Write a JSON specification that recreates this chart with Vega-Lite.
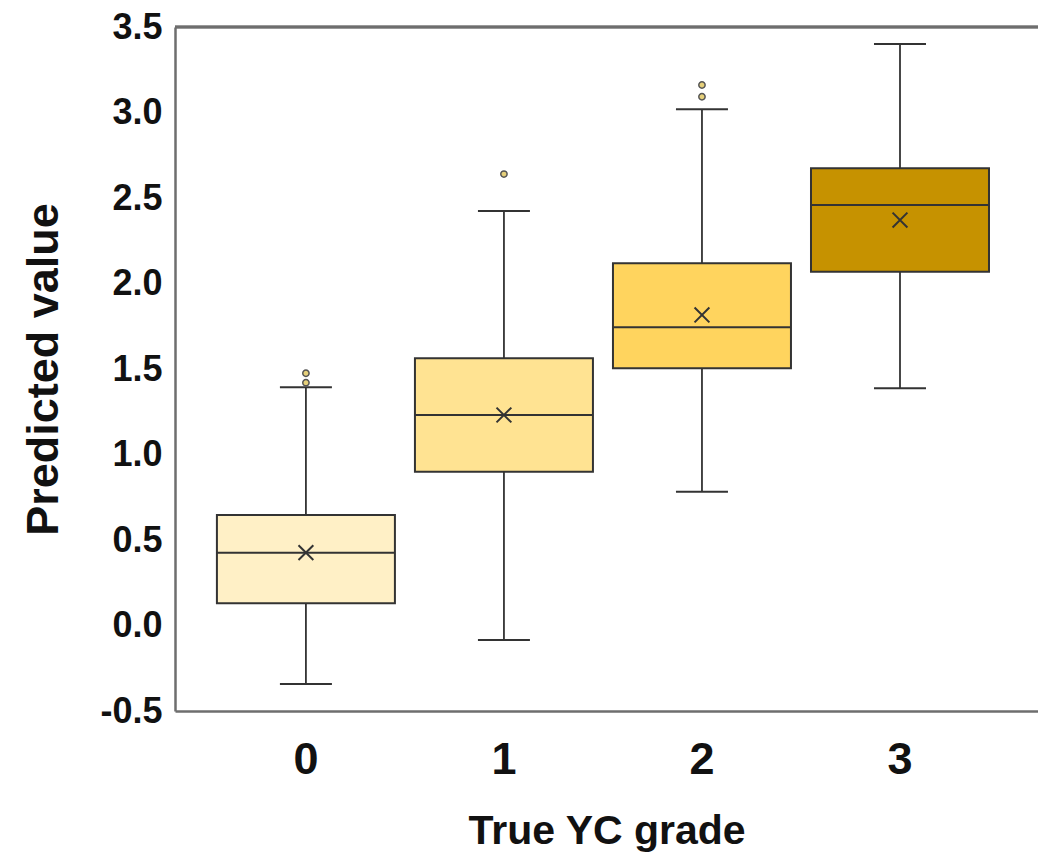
{
  "$schema": "https://vega.github.io/schema/vega-lite/v6.json",
  "width": 863,
  "height": 684,
  "autosize": {"type": "none"},
  "padding": {"left": 175, "top": 27, "right": 0, "bottom": 149},
  "background": "white",
  "config": {
    "view": {"stroke": null},
    "font": "Liberation Sans",
    "axis": {"grid": false, "ticks": false, "domainColor": "#6e6e6e", "domainWidth": 2.5, "labelColor": "#111", "titleColor": "#111", "labelFontWeight": "bold", "titleFontWeight": "bold"}
  },
  "datasets": {
    "boxes": [
      {"grade": "0", "lower": -0.342, "q1": 0.13, "median": 0.426, "q3": 0.646, "upper": 1.393, "mean": 0.426},
      {"grade": "1", "lower": -0.085, "q1": 0.899, "median": 1.231, "q3": 1.563, "upper": 2.424, "mean": 1.231},
      {"grade": "2", "lower": 0.782, "q1": 1.504, "median": 1.744, "q3": 2.118, "upper": 3.019, "mean": 1.816},
      {"grade": "3", "lower": 1.387, "q1": 2.069, "median": 2.459, "q3": 2.674, "upper": 3.4, "mean": 2.371}
    ],
    "outliers": [
      {"grade": "0", "value": 1.475},
      {"grade": "0", "value": 1.42},
      {"grade": "1", "value": 2.64},
      {"grade": "2", "value": 3.161},
      {"grade": "2", "value": 3.092}
    ]
  },
  "data": {"name": "boxes"},
  "encoding": {
    "x": {
      "field": "grade", "type": "nominal", "sort": ["0", "1", "2", "3"],
      "scale": {"type": "band", "paddingInner": 0, "paddingOuter": 0.179, "align": 0.45},
      "axis": {"title": "True YC grade", "labelAngle": 0, "labelFontSize": 45, "labelPadding": 26, "titleFontSize": 41, "titlePadding": 29}
    }
  },
  "layer": [
    {
      "mark": {"type": "rule", "color": "#6e6e6e", "strokeWidth": 2.5},
      "encoding": {"x": null, "y": {"datum": 3.5, "type": "quantitative"}}
    },
    {
      "mark": {"type": "rule", "color": "#333333", "strokeWidth": 1.8},
      "encoding": {
        "y": {"field": "lower", "type": "quantitative",
          "scale": {"domain": [-0.5, 3.5], "nice": false, "zero": false},
          "axis": {"title": "Predicted value", "values": [-0.5, 0, 0.5, 1, 1.5, 2, 2.5, 3, 3.5], "labelFontSize": 36, "labelPadding": 13, "titleFontSize": 45, "titlePadding": 33,
            "labelExpr": "datum.value < 0 ? '-' + format(-datum.value, '.1f') : format(datum.value, '.1f')"}},
        "y2": {"field": "q1"}
      }
    },
    {
      "mark": {"type": "rule", "color": "#333333", "strokeWidth": 1.8},
      "encoding": {"y": {"field": "q3", "type": "quantitative"}, "y2": {"field": "upper"}}
    },
    {
      "mark": {"type": "tick", "color": "#333333", "size": 52, "thickness": 2, "opacity": 1},
      "encoding": {"y": {"field": "lower", "type": "quantitative"}}
    },
    {
      "mark": {"type": "tick", "color": "#333333", "size": 52, "thickness": 2, "opacity": 1},
      "encoding": {"y": {"field": "upper", "type": "quantitative"}}
    },
    {
      "mark": {"type": "bar", "width": 178, "stroke": "#333333", "strokeWidth": 2, "opacity": 1},
      "encoding": {
        "y": {"field": "q1", "type": "quantitative"},
        "y2": {"field": "q3"},
        "fill": {"field": "grade", "type": "nominal", "legend": null,
          "scale": {"domain": ["0", "1", "2", "3"], "range": ["#FFF0C6", "#FFE392", "#FFD45E", "#C69200"]}}
      }
    },
    {
      "mark": {"type": "tick", "color": "#333333", "size": 178, "thickness": 2, "opacity": 1},
      "encoding": {"y": {"field": "median", "type": "quantitative"}}
    },
    {
      "mark": {"type": "point", "shape": "M-1,-1L1,1M-1,1L1,-1", "size": 220, "filled": false, "stroke": "#333333", "strokeWidth": 2, "opacity": 1},
      "encoding": {"y": {"field": "mean", "type": "quantitative"}}
    },
    {
      "data": {"name": "outliers"},
      "mark": {"type": "point", "shape": "circle", "size": 40, "filled": true, "fill": "#E6D07A", "stroke": "#555555", "strokeWidth": 1.5, "opacity": 1},
      "encoding": {"y": {"field": "value", "type": "quantitative"}}
    }
  ]
}
